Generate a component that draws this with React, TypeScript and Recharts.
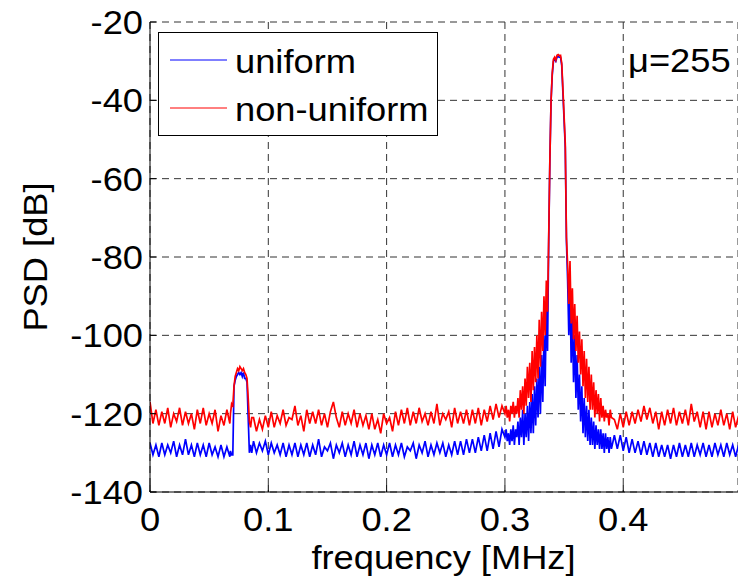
import React from 'react';
import { LineChart, Line, XAxis, YAxis, CartesianGrid, Legend } from 'recharts';

const FONT = '"Liberation Sans", Arial, Helvetica, sans-serif';
const SX = 1.1;
const FS = 33;

const xTicks = [0, 0.1, 0.2, 0.3, 0.4];
const xTickLabels = ['0', '0.1', '0.2', '0.3', '0.4'];
const yTicks = [-140, -120, -100, -80, -60, -40, -20];
const yTickLabels = ['-140', '-120', '-100', '-80', '-60', '-40', '-20'];
const seriesNames = ['uniform', 'non-uniform'];

// segment A: 0 .. 0.0675 (step 0.0025)
const nonUniformA = [-117, -122.5, -119, -123, -119.5, -122.5, -118.5, -123.5, -120, -122, -118.5, -123, -119.5, -122.5, -120, -124, -119, -122.5, -118.5, -123, -120, -122.5, -119, -124.5, -120.5, -123, -119, -122.5];
const uniformA = [-127.5, -130.5, -128, -131, -127.5, -130.5, -128, -130, -127, -131, -128, -130.5, -126.5, -130.5, -128, -131, -127.5, -130.5, -128, -131, -127.5, -130.5, -128.5, -131, -128, -131, -128.5, -131];

// small tone: 0.068 .. 0.086 (step 0.001)
const nonUniformP1 = [-120, -117.5, -118, -113, -110.5, -109.5, -108.5, -109, -108, -108.5, -109, -108.5, -109.5, -110, -111, -116, -122, -123.5, -121];
const uniformP1 = [-129.5, -130.5, -130.5, -113, -111.5, -110.5, -110, -109.5, -110, -109.5, -110.5, -109.5, -111, -111, -112, -121, -130, -128, -130];

// segment B: 0.0875 .. 0.2975 (step 0.0025)
const nonUniformB = [
  -121, -124.5, -121.5, -124, -120.5, -123.5, -119.5, -123.5, -120.5, -122.5,
  -119, -123, -121, -121.5, -118, -123, -120.5, -124.5, -119, -122.5,
  -119.5, -122.5, -119, -123, -120, -123.5, -119.5, -117, -121, -123.5,
  -119.5, -123, -120, -122.5, -119, -123.5, -120, -123, -120.5, -124,
  -120, -124, -121.5, -125, -120, -122.5, -121, -124.5, -119.5, -123,
  -119, -122.5, -118.5, -123, -119.5, -122.5, -118.5, -122, -120, -123,
  -119.5, -122.5, -117.5, -123, -120, -121.5, -119.5, -123.5, -118.5, -122.5,
  -119.5, -122.5, -119, -123, -119, -122.5, -118.5, -123, -119, -122,
  -118, -121.5, -117.5, -121, -118,
];
const uniformB = [
  -127, -130, -127.5, -129.5, -127, -130.5, -127.5, -130, -128, -130.5,
  -127.5, -131, -128, -130.5, -127.5, -131, -128, -130.5, -127.5, -131,
  -128, -130.5, -126.5, -131, -128.5, -129.5, -127.5, -131.5, -128, -130,
  -127.5, -131, -128, -130.5, -127, -131, -128, -130.5, -127.5, -131.5,
  -128, -130.5, -127.5, -131, -128, -130.5, -127.5, -131, -128, -130.5,
  -127.5, -131, -128.5, -129.5, -127.5, -131.5, -128, -130, -127, -131,
  -128, -130.5, -127.5, -130, -127.5, -131, -128, -130.5, -127, -130.5,
  -127, -130.5, -126.5, -130, -126.5, -130, -126, -129.5, -125.5, -129.5,
  -125, -129, -124.5, -128.5, -124,
];

// main tone: 0.300 .. 0.390 (step 0.001)
const nonUniformP2 = [
  -120, -118, -121, -119, -122, -118, -120, -117, -121, -118,
  -120, -116, -121, -114, -119, -113, -120, -111, -118, -108,
  -116, -107, -117, -104, -114, -103, -112, -100, -111, -96,
  -108, -94, -104, -90, -100, -86, -94, -75, -55, -40,
  -33, -29.5, -29, -29.8, -28.5, -28.3, -28.6, -28.5, -30.5, -37,
  -44, -51, -75, -82, -92, -81, -97, -88, -101, -92,
  -104, -95, -107, -99, -110, -101, -113, -104, -116, -106,
  -117, -108, -119, -110, -119, -112, -121, -114, -120, -115,
  -122, -116, -121, -118, -122, -119, -121, -120, -123, -119,
  -121,
];
const uniformP2 = [
  -126, -124, -127, -125, -128, -124, -127, -123, -128, -124,
  -126, -122, -128, -121, -126, -119, -128, -120, -126, -118,
  -127, -117, -125, -115, -125, -113, -123, -111, -121, -108,
  -120, -105, -117, -100, -113, -92, -104, -76, -55, -40,
  -33.5, -30, -29.5, -30, -29, -28.8, -29, -29, -31, -38,
  -45, -52, -76, -86, -100, -88, -107, -95, -112, -100,
  -116, -105, -119, -110, -122, -113, -125, -116, -126, -118,
  -127, -119, -128, -121, -128, -122, -129, -123, -128, -124,
  -129, -124, -129, -125, -130, -125, -129, -126, -130, -126,
  -129,
];

// segment C: 0.3925 .. 0.4975 (step 0.0025)
const nonUniformC = [
  -121.5, -124, -120, -123.5, -119.5, -123, -119.5, -122.5, -119, -122,
  -118, -121.5, -118.5, -122.5, -119.5, -124, -119.5, -123, -119, -122.5,
  -118.5, -123, -119.5, -122.5, -119, -123, -117.5, -122, -119.5, -123.5,
  -119.5, -124, -119.5, -123.5, -120, -123, -119, -123, -120, -124,
  -119.5, -123.5, -120.5,
];
const uniformC = [
  -125.5, -129, -125.5, -129.5, -126, -130, -126.5, -130, -127, -130.5,
  -127, -130.5, -127.5, -131, -127.5, -131, -128, -131, -128, -131.5,
  -128, -131, -127.5, -131, -128, -131, -127.5, -131, -128, -130.5,
  -127.5, -131, -128, -131, -127.5, -130.5, -128, -131, -127.5, -130.5,
  -128, -131, -128,
];

const rnd = (v: number) => Math.round(v * 1e5) / 1e5;
const grid = (start: number, step: number, n: number) => Array.from({ length: n }, (_, i) => rnd(start + i * step));

const freqA = grid(0, 0.0025, uniformA.length);
const freqP1 = grid(0.068, 0.001, uniformP1.length);
const freqB = grid(0.0875, 0.0025, uniformB.length);
const freqP2 = grid(0.3, 0.001, uniformP2.length);
const freqC = grid(0.3925, 0.0025, uniformC.length);

const zip = (f: number[], v: number[]) => f.map((x, i) => ({ f: x, v: v[i] }));

const uniformData = [
  ...zip(freqA, uniformA), ...zip(freqP1, uniformP1), ...zip(freqB, uniformB),
  ...zip(freqP2, uniformP2), ...zip(freqC, uniformC),
];
const nonUniformData = [
  ...zip(freqA, nonUniformA), ...zip(freqP1, nonUniformP1), ...zip(freqB, nonUniformB),
  ...zip(freqP2, nonUniformP2), ...zip(freqC, nonUniformC),
];

const XTick = (props: any) => {
  const { x, y, payload } = props;
  const idx = xTicks.indexOf(payload.value);
  return (
    <g>
      <line x1={x} x2={x} y1={y} y2={y - 7} stroke="#000" strokeWidth={1} />
      <text transform={`translate(${x},${y + 39}) scale(${SX},1)`} textAnchor="middle" fontSize={FS} fontFamily={FONT} fill="#000">
        {idx >= 0 ? xTickLabels[idx] : payload.value}
      </text>
    </g>
  );
};

const TopTick = (props: any) => {
  const { x, y } = props;
  return <line x1={x} x2={x} y1={y} y2={y + 7} stroke="#000" strokeWidth={1} />;
};

const YTick = (props: any) => {
  const { x, y, payload } = props;
  const idx = yTicks.indexOf(payload.value);
  return (
    <g>
      <line x1={x} x2={x + 6} y1={y} y2={y} stroke="#000" strokeWidth={1} />
      <text transform={`translate(${x - 7},${y + 12}) scale(${SX},1)`} textAnchor="end" fontSize={FS} fontFamily={FONT} fill="#000">
        {idx >= 0 ? yTickLabels[idx] : payload.value}
      </text>
    </g>
  );
};

const LegendBox = (props: any) => {
  const payload = props.payload || [];
  const items = seriesNames.map((name, i) => {
    const p = payload.find((q: any) => q.value === name);
    return { name, color: p ? p.color : i === 0 ? '#0000ff' : '#ff0000' };
  });
  return (
    <div style={{ width: 280, height: 104, border: '1px solid #000', background: '#fff', boxSizing: 'border-box' }}>
      <svg width={278} height={102} style={{ display: 'block' }}>
        {items.map((it, i) => (
          <g key={it.name}>
            <line x1={11} x2={68} y1={27 + i * 48} y2={27 + i * 48} stroke={it.color} strokeWidth={1} />
            <text transform={`translate(76,${40 + i * 48}) scale(${SX},1)`} fontSize={FS} fontFamily={FONT} fill="#000">{it.name}</text>
          </g>
        ))}
      </svg>
    </div>
  );
};

export default function App() {
  return (
    <div style={{ position: 'absolute', left: 0, top: 0, width: 738, height: 577, background: '#fff' }}>
      <LineChart width={738} height={577} margin={{ top: 22, right: 0, bottom: 0, left: 0 }}>
        <CartesianGrid stroke="#333" strokeDasharray="7 5" />
        <XAxis
          type="number"
          dataKey="f"
          domain={[0, 0.497]}
          ticks={xTicks}
          allowDataOverflow
          height={85}
          tickSize={0}
          tickMargin={0}
          tickLine={false}
          axisLine={{ stroke: '#000', strokeWidth: 1 }}
          tick={<XTick />}
          interval={0}
        />
        <XAxis
          xAxisId="top"
          orientation="top"
          type="number"
          dataKey="f"
          domain={[0, 0.497]}
          ticks={xTicks}
          allowDataOverflow
          height={0}
          tickSize={0}
          tickMargin={0}
          tickLine={false}
          axisLine={{ stroke: '#000', strokeWidth: 1 }}
          tick={<TopTick />}
          interval={0}
        />
        <YAxis
          type="number"
          domain={[-140, -20]}
          ticks={yTicks}
          width={150}
          tickSize={0}
          tickMargin={0}
          tickLine={false}
          axisLine={{ stroke: '#000', strokeWidth: 1 }}
          tick={<YTick />}
          interval={0}
        />
        <Line data={uniformData} dataKey="v" name={seriesNames[0]} stroke="#0000ff" strokeWidth={1.7} dot={false} isAnimationActive={false} />
        <Line data={nonUniformData} dataKey="v" name={seriesNames[1]} stroke="#ff0000" strokeWidth={1.7} dot={false} isAnimationActive={false} />
        <Legend
          layout="vertical"
          align="center"
          verticalAlign="middle"
          wrapperStyle={{ position: 'absolute', left: 158, top: 32, width: 280, height: 104 }}
          content={(p: any) => <LegendBox {...p} />}
        />
      </LineChart>
      <svg width={738} height={577} style={{ position: 'absolute', left: 0, top: 0, pointerEvents: 'none' }}>
        <text transform={`translate(628,72) scale(${SX},1)`} fontSize={FS} fontFamily={FONT} fill="#000">μ=255</text>
        <text transform={`translate(443.5,569) scale(${SX},1)`} textAnchor="middle" fontSize={FS} fontFamily={FONT} fill="#000">frequency [MHz]</text>
        <text transform={`translate(47,257) rotate(-90) scale(${SX},1)`} textAnchor="middle" fontSize={FS} fontFamily={FONT} fill="#000">PSD [dB]</text>
      </svg>
    </div>
  );
}
